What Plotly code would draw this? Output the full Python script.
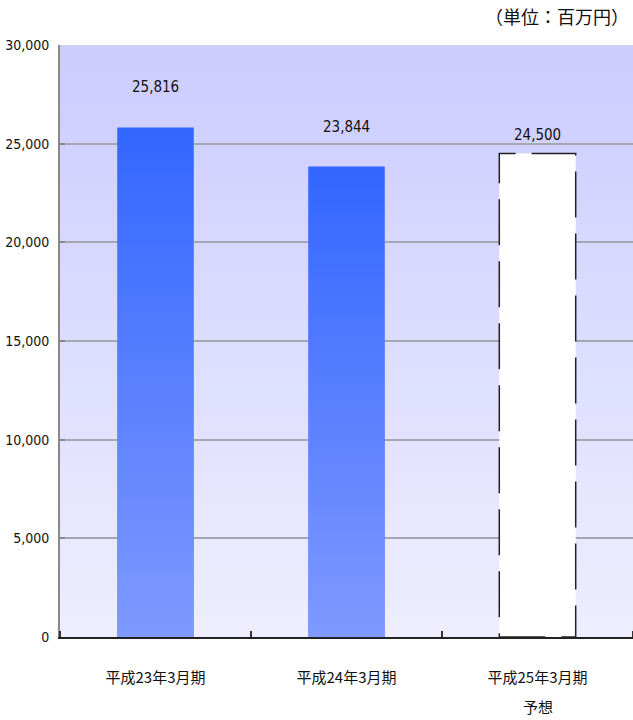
import base64
import plotly.graph_objects as go

categories = ["平成23年3月期", "平成24年3月期", "平成25年3月期"]
sublabels = ["", "", "予想"]
values = [25816, 23844, 24500]
value_labels = ["25,816", "23,844", "24,500"]
forecast = [False, False, True]
label_shift = [30, 28, 8]
y_ticks = [0, 5000, 10000, 15000, 20000, 25000, 30000]
y_ticktext = ["0", "5,000", "10,000", "15,000", "20,000", "25,000", "30,000"]
unit_text = "（単位：百万円）"

BAR_W = 0.4
NUM_FONT = "DejaVu Sans Condensed, Liberation Sans Narrow, Liberation Sans, sans-serif"
JP_FONT = "Noto Sans CJK JP, sans-serif"


def grad_uri(top, bottom):
    svg = (
        '<svg xmlns="http://www.w3.org/2000/svg" width="100" height="100" preserveAspectRatio="none">'
        '<defs><linearGradient id="g" x1="0" y1="0" x2="0" y2="1">'
        f'<stop offset="0" stop-color="{top}"/><stop offset="1" stop-color="{bottom}"/>'
        '</linearGradient></defs><rect width="100" height="100" fill="url(#g)"/></svg>'
    )
    return "data:image/svg+xml;base64," + base64.b64encode(svg.encode()).decode()


xs = list(range(len(categories)))

fig = go.Figure()
fig.add_trace(go.Bar(
    x=xs, y=values, width=BAR_W,
    marker=dict(color=["#ffffff" if f else "#5a80ff" for f in forecast], line=dict(width=0)),
    hoverinfo="skip",
))

images = [dict(
    source=grad_uri("#ccccff", "#eeeeff"), xref="x domain", yref="y domain",
    x=0, y=1, sizex=1, sizey=1, sizing="stretch", layer="below",
    xanchor="left", yanchor="top",
)]
shapes = []
annotations = []
for i, (v, f) in enumerate(zip(values, forecast)):
    if not f:
        images.append(dict(
            source=grad_uri("#3366ff", "#7f99ff"), xref="x", yref="y",
            x=i - BAR_W / 2, y=v, sizex=BAR_W, sizey=v, sizing="stretch",
            layer="above", xanchor="left", yanchor="top",
        ))
    else:
        shapes.append(dict(
            type="rect", xref="x", yref="y", x0=i - BAR_W / 2, x1=i + BAR_W / 2,
            y0=0, y1=v, line=dict(color="#222222", width=1.5, dash="46px,16px"),
            fillcolor="rgba(0,0,0,0)", layer="above",
        ))
    annotations.append(dict(
        x=i, y=v, xref="x", yref="y", text=value_labels[i], showarrow=False,
        yanchor="bottom", yshift=label_shift[i],
        font=dict(family=NUM_FONT, size=15, color="#111111"),
    ))
    if sublabels[i]:
        annotations.append(dict(
            x=i, y=0, xref="x", yref="paper", text=sublabels[i], showarrow=False,
            yanchor="middle", yshift=-69,
            font=dict(family=JP_FONT, size=15, color="#111111"),
        ))

annotations.append(dict(
    x=1, y=1, xref="paper", yref="paper", xanchor="right", yanchor="bottom",
    xshift=-2, yshift=14, text=unit_text, showarrow=False,
    font=dict(family=JP_FONT, size=18, color="#111111"),
))

fig.update_layout(
    width=633, height=720,
    margin=dict(l=60, r=0, t=45, b=83, autoexpand=False),
    paper_bgcolor="white", plot_bgcolor="rgba(0,0,0,0)",
    showlegend=False,
    images=images, shapes=shapes, annotations=annotations,
    bargap=0.6,
)
fig.update_xaxes(
    range=[-0.5, len(categories) - 0.5], tickvals=xs, ticktext=categories,
    showgrid=False, zeroline=False, showline=True, linecolor="#222222", linewidth=2,
    ticks="", tickfont=dict(family=JP_FONT, size=15, color="#111111"),
    ticklabelstandoff=26, automargin=False,
    minor=dict(tick0=-0.5, dtick=1, ticks="inside", ticklen=6, tickcolor="#333333", tickwidth=1.5, showgrid=False),
    fixedrange=True,
)
fig.update_yaxes(
    range=[0, 30000], tickvals=y_ticks, ticktext=y_ticktext,
    showgrid=True, gridcolor="#a6a6b0", gridwidth=1.5, zeroline=False,
    showline=True, linecolor="#888888", linewidth=2,
    ticks="inside", ticklen=5, tickcolor="#888888", tickwidth=2,
    tickfont=dict(family=NUM_FONT, size=14, color="#111111"), ticklabelstandoff=6,
    automargin=False, fixedrange=True,
)

fig.write_html(
    "out.html", config={"displayModeBar": False},
    post_script="document.body.style.margin='0';document.body.style.overflow='hidden';",
)
